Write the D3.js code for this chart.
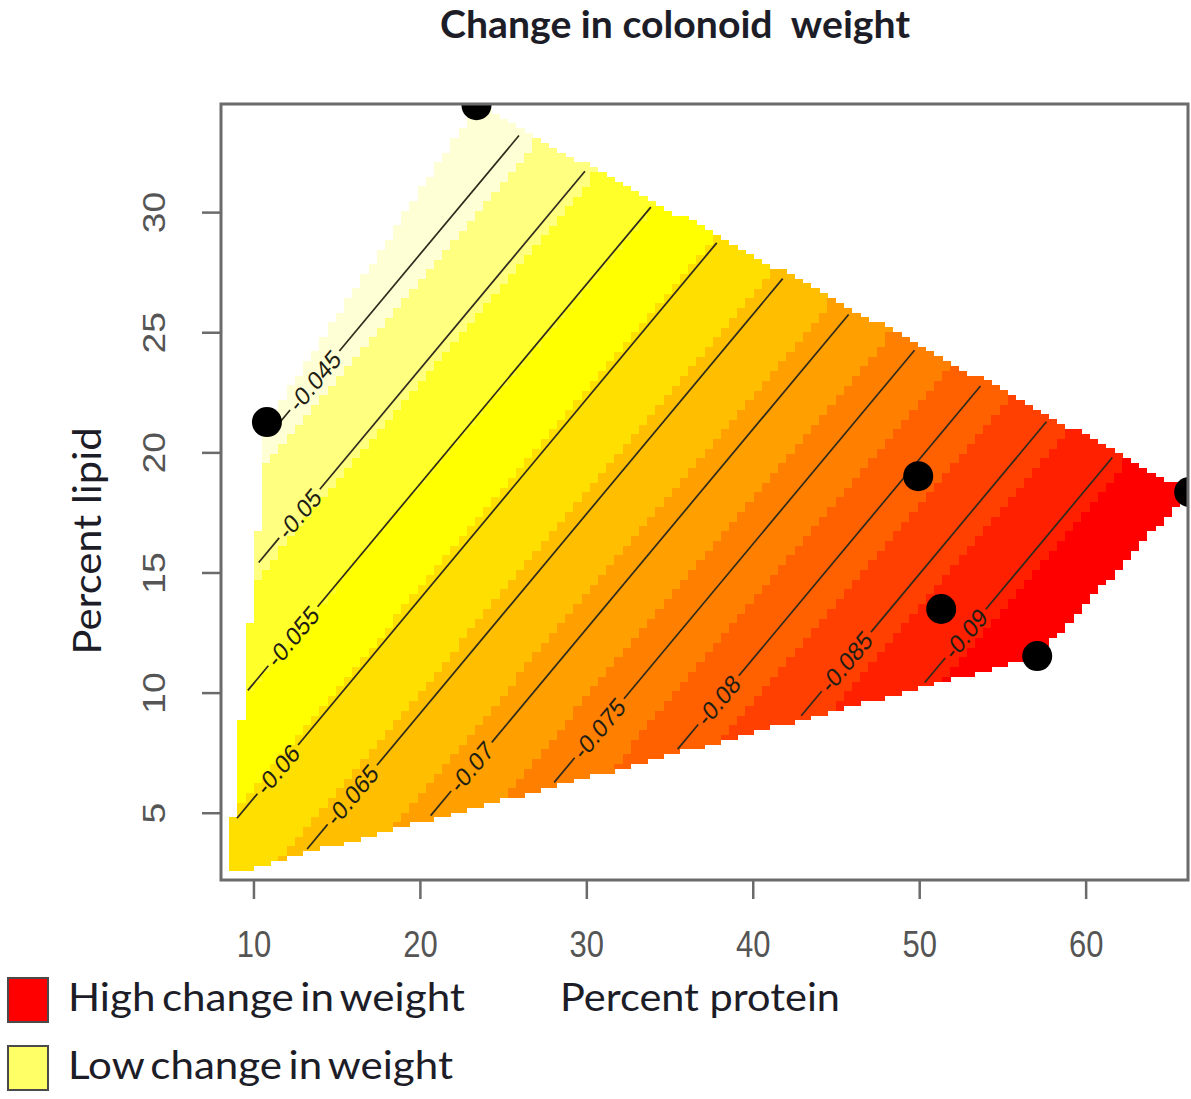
<!DOCTYPE html>
<html>
<head>
<meta charset="utf-8">
<script src="https://cdn.jsdelivr.net/npm/d3@7"></script>
<style>
  body { margin: 0; background: #ffffff; }
  svg { display: block; }
</style>
</head>
<body>
<svg id="chart" width="1191" height="1099"></svg>
<script>
// ---- data -------------------------------------------------------------
// Observed diets (percent protein, percent lipid)
const proteinPts = [23.4, 10.81, 49.94, 51.32, 57.09, 66.22];
const lipidPts   = [34.45, 21.26, 19.01, 13.48, 11.52, 18.35];

// Outline of the mixture region the surface is predicted over
const regionProtein = [8.5, 57.09, 66.22, 23.4, 10.81];
const regionLipid   = [2.45, 11.52, 18.35, 34.45, 21.26];

// Fitted linear response: change = intercept + coefProtein*protein + coefLipid*lipid
const intercept = -0.05716;
const coefProtein = -0.000869;
const coefLipid = 0.001046;

const contourLevels = [-0.045, -0.05, -0.055, -0.06, -0.065, -0.07, -0.075, -0.08, -0.085, -0.09];

const xTicks = [10, 20, 30, 40, 50, 60];
const yTicks = [5, 10, 15, 20, 25, 30];
const xDomain = [8.05, 66.15];
const yDomain = [2.2, 34.5];

// heat palette, low response -> red, high response -> pale yellow
const heatColors = ["#FF0000", "#FF2000", "#FF4000", "#FF6000", "#FF8000", "#FF9F00",
                    "#FFBF00", "#FFDF00", "#FFFF00", "#FFFF2A", "#FFFF80", "#FFFFD5"];

const legendLabels = ["High change in weight", "Low change in weight"];
const legendColors = ["#FF0000", "#FFFF66"];

const titleText = "Change in colonoid  weight";
const xTitle = "Percent protein";
const yTitle = "Percent lipid";

// ---- layout -----------------------------------------------------------
const plot = { left: 221, right: 1188, top: 104, bottom: 880 };
const textStretch = 1.2;           // vertical stretch of the plot lettering
const svg = d3.select("#chart");

const x = d3.scaleLinear().domain(xDomain).range([plot.left, plot.right]);
const y = d3.scaleLinear().domain(yDomain).range([plot.bottom, plot.top]);

svg.append("defs").append("clipPath").attr("id", "plotClip")
  .append("rect")
  .attr("x", plot.left).attr("y", plot.top)
  .attr("width", plot.right - plot.left).attr("height", plot.bottom - plot.top);

const region = regionProtein.map((p, i) => [p, regionLipid[i]]);
const response = (p, l) => intercept + coefProtein * p + coefLipid * l;

// ---- image grid ------------------------------------------------------
const nCols = 118, nRows = 160;
const dx = (xDomain[1] - xDomain[0]) / nCols;
const dy = (yDomain[1] - yDomain[0]) / nRows;

const cells = [];
for (let j = 0; j < nRows; j++) {
  for (let i = 0; i < nCols; i++) {
    const p = xDomain[0] + (i + 0.5) * dx;
    const l = yDomain[0] + (j + 0.5) * dy;
    if (d3.polygonContains(region, [p, l])) cells.push({ i, j, z: response(p, l) });
  }
}
const color = d3.scaleQuantize().domain(d3.extent(cells, d => d.z)).range(heatColors);

// merge neighbouring cells of one colour along each row
const runs = [];
let cur = null;
cells.forEach(c => {
  const fill = color(c.z);
  if (cur && cur.j === c.j && cur.i1 === c.i - 1 && cur.fill === fill) cur.i1 = c.i;
  else { cur = { j: c.j, i0: c.i, i1: c.i, fill }; runs.push(cur); }
});

const g = svg.append("g").attr("clip-path", "url(#plotClip)");

g.append("g").selectAll("rect").data(runs).join("rect")
  .attr("x", d => x(xDomain[0] + d.i0 * dx))
  .attr("width", d => x(xDomain[0] + (d.i1 + 1) * dx) - x(xDomain[0] + d.i0 * dx) + 0.4)
  .attr("y", d => y(yDomain[0] + (d.j + 1) * dy))
  .attr("height", d => y(yDomain[0] + d.j * dy) - y(yDomain[0] + (d.j + 1) * dy) + 0.4)
  .attr("fill", d => d.fill)
  .attr("shape-rendering", "crispEdges");

// ---- contour lines ---------------------------------------------------
const cross = (a, b) => a[0] * b[1] - a[1] * b[0];
function levelSegment(level) {
  const dir = [1, -coefProtein / coefLipid];
  const p0 = 30, l0 = (level - intercept - coefProtein * p0) / coefLipid;
  const ts = [];
  for (let k = 0; k < region.length; k++) {
    const A = region[k], B = region[(k + 1) % region.length];
    const e = [B[0] - A[0], B[1] - A[1]];
    const den = cross(dir, e);
    if (Math.abs(den) < 1e-12) continue;
    const w = [A[0] - p0, A[1] - l0];
    const t = cross(w, e) / den, s = cross(w, dir) / den;
    if (s >= 0 && s <= 1) ts.push(t);
  }
  if (ts.length < 2) return null;
  const t0 = d3.min(ts) + 0.25, t1 = d3.max(ts) - 0.25;
  if (t1 <= t0) return null;
  return [[p0 + t0 * dir[0], l0 + t0 * dir[1]], [p0 + t1 * dir[0], l0 + t1 * dir[1]]];
}

const contourG = g.append("g");
const lineGen = d3.line();
contourLevels.forEach(level => {
  const seg = levelSegment(level);
  if (!seg) return;
  const A = [x(seg[0][0]), y(seg[0][1])];
  const B = [x(seg[1][0]), y(seg[1][1])];
  const len = Math.hypot(B[0] - A[0], B[1] - A[1]);
  const u = [(B[0] - A[0]) / len, (B[1] - A[1]) / len];
  const theta = Math.atan2(u[1] / textStretch, u[0]);

  const label = contourG.append("text")
    .text(String(level))
    .attr("font-family", "'Liberation Sans', Arial, sans-serif")
    .attr("font-size", 22)
    .attr("fill", "#1e1e14")
    .attr("text-anchor", "middle")
    .attr("dy", "0.36em");
  const tl = label.node().getComputedTextLength();
  const half = tl / 2 * Math.hypot(Math.cos(theta), textStretch * Math.sin(theta));
  const lead = Math.min(half + 36, len / 2);
  const C = [A[0] + u[0] * lead, A[1] + u[1] * lead];
  const gap = half + 4;
  label.attr("transform",
    `translate(${C[0]},${C[1]}) scale(1,${textStretch}) rotate(${theta * 180 / Math.PI})`);

  const pieces = [
    [A, [C[0] - u[0] * gap, C[1] - u[1] * gap]],
    [[C[0] + u[0] * gap, C[1] + u[1] * gap], B]
  ].filter(pc => (pc[1][0] - pc[0][0]) * u[0] + (pc[1][1] - pc[0][1]) * u[1] > 0);
  contourG.selectAll(null).data(pieces).join("path")
    .attr("d", d => lineGen(d))
    .attr("fill", "none")
    .attr("stroke", "#2f2a1c")
    .attr("stroke-width", 1.7);
});

// ---- observed points -------------------------------------------------
g.append("g").selectAll("circle").data(proteinPts).join("circle")
  .attr("cx", d => x(d))
  .attr("cy", (d, i) => y(lipidPts[i]))
  .attr("r", 15)
  .attr("fill", "#000");

// ---- axes --------------------------------------------------------------
const axisColor = "#6b6b6b";
const tickFont = "'Liberation Sans', Arial, sans-serif";

const xAxis = svg.append("g").attr("transform", `translate(0,${plot.bottom})`)
  .call(d3.axisBottom(x).tickValues(xTicks).tickSize(19).tickSizeOuter(0));
xAxis.select(".domain").remove();
xAxis.selectAll(".tick line").attr("stroke", axisColor).attr("stroke-width", 2.5);
xAxis.selectAll(".tick text")
  .attr("y", null).attr("dy", null)
  .attr("transform", `translate(0,${77}) scale(1,${textStretch})`)
  .attr("font-family", tickFont).attr("font-size", 31).attr("fill", "#555");

const yAxis = svg.append("g").attr("transform", `translate(${plot.left},0)`)
  .call(d3.axisLeft(y).tickValues(yTicks).tickSize(19).tickSizeOuter(0));
yAxis.select(".domain").remove();
yAxis.selectAll(".tick line").attr("stroke", axisColor).attr("stroke-width", 2.5);
yAxis.selectAll(".tick text")
  .attr("x", null).attr("dy", null)
  .attr("text-anchor", "middle")
  .attr("transform", `translate(${-56},0) rotate(-90) scale(${textStretch},1)`)
  .attr("font-family", tickFont).attr("font-size", 31).attr("fill", "#555");

// plot frame
svg.append("rect")
  .attr("x", plot.left).attr("y", plot.top)
  .attr("width", plot.right - plot.left).attr("height", plot.bottom - plot.top)
  .attr("fill", "none").attr("stroke", axisColor).attr("stroke-width", 3);

// ---- titles -------------------------------------------------------------
const labelFont = "Lato, 'Open Sans', sans-serif";
svg.append("text")
  .attr("x", 675).attr("y", 38)
  .attr("text-anchor", "middle")
  .style("white-space", "pre")
  .attr("font-family", labelFont).attr("font-weight", 700).attr("font-size", 38)
  .attr("fill", "#1d1d28")
  .attr("textLength", 470).attr("lengthAdjust", "spacingAndGlyphs")
  .text(titleText);

svg.append("text")
  .attr("x", 700).attr("y", 1011)
  .attr("text-anchor", "middle")
  .attr("font-family", labelFont).attr("font-size", 39).attr("fill", "#1d1d28")
  .attr("textLength", 280).attr("lengthAdjust", "spacingAndGlyphs")
  .text(xTitle);

svg.append("text")
  .attr("transform", "translate(101,541) rotate(-90)")
  .attr("text-anchor", "middle")
  .attr("font-family", labelFont).attr("font-size", 39).attr("fill", "#1d1d28")
  .attr("textLength", 227).attr("lengthAdjust", "spacingAndGlyphs")
  .text(yTitle);

// ---- legend -------------------------------------------------------------
const legend = svg.append("g");
const legendTop = [978, 1046];
const legendWidths = [397, 385];
legend.selectAll("rect").data(legendLabels).join("rect")
  .attr("x", 8).attr("y", (d, i) => legendTop[i])
  .attr("width", 40).attr("height", 44)
  .attr("fill", (d, i) => legendColors[i])
  .attr("stroke", "#4a4a4a").attr("stroke-width", 2);
legend.selectAll("text").data(legendLabels).join("text")
  .attr("x", 68).attr("y", (d, i) => legendTop[i] + 33)
  .attr("font-family", labelFont).attr("font-size", 39).attr("fill", "#1d1d28")
  .attr("word-spacing", -4)
  .attr("textLength", (d, i) => legendWidths[i]).attr("lengthAdjust", "spacingAndGlyphs")
  .text(d => d);
</script>
</body>
</html>
